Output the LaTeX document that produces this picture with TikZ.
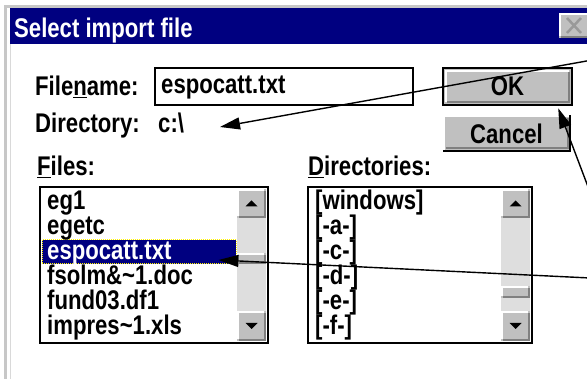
\documentclass[tikz,border=0pt]{standalone}
\usepackage{fontspec}
\setmainfont{Liberation Sans}[FakeStretch=0.82]
\usetikzlibrary{arrows.meta}
\definecolor{winnavy}{RGB}{0,0,128}
\definecolor{btngray}{RGB}{192,192,192}
\definecolor{trackgray}{RGB}{222,222,222}
\definecolor{shadegray}{RGB}{128,128,128}
\tikzset{
  wintext/.style={font=\fontsize{27}{30}\selectfont\bfseries, inner sep=0pt, anchor=base west},
  button/.style={fill=btngray, minimum height=37pt, inner sep=0pt, font=\fontsize{27}{30}\selectfont\bfseries},
  pointer/.style={line width=1.4pt, -{Triangle[length=20pt,width=12pt]}},
}
% raised grey box: (left,top)(right,bottom)
\def\bevel(#1,#2)(#3,#4){%
  \fill[btngray] (#1,#2) rectangle (#3,#4);
  \draw[white, line width=2pt] ({#1+1},{#4-2}) -- ({#1+1},{#2+1}) -- ({#3-2},{#2+1});
  \draw[shadegray, line width=2pt] ({#1+2},{#4-1}) -- ({#3-1},{#4-1}) -- ({#3-1},{#2+2});
}
\def\uptri(#1,#2){\fill ({#1-6},{#2+3}) -- ({#1+6},{#2+3}) -- (#1,{#2-3}) -- cycle;}
\def\downtri(#1,#2){\fill ({#1-6},{#2-3}) -- ({#1+6},{#2-3}) -- (#1,{#2+3}) -- cycle;}

\begin{document}
\begin{tikzpicture}[x=1pt,y=-1pt]
	%%%%% START %%%%%
	\clip (0,0) rectangle (587,379);
	\fill[white] (0,0) rectangle (587,379);
	
	% window frame and title bar
	\draw[black!22, line width=3pt] (5.5,379) -- (5.5,6.5) -- (587,6.5);
	\draw[black!15, line width=1pt] (10.5,44) -- (10.5,379);
	\fill[winnavy] (10,8) rectangle (587,44);
	\node[wintext, text=white] (title) at (14,38) {Select import file};
	\bevel(559,13)(592,38)
	\draw[black!40, line width=2.5pt] (567,18) -- (581,33) (581,18) -- (567,33);
	
	% file name and directory
	\node[wintext] (fnlabel) at (35,96) {File\underline{n}ame:};
	\node[draw=black, line width=1.2pt, minimum width=258pt, minimum height=37pt, inner sep=0pt] (fnbox) at (284,86.5) {};
	\node[wintext] (fnvalue) at (161,94) {espocatt.txt};
	\node[wintext] (dirlabel) at (35,133) {Directory:};
	\node[wintext] (dirvalue) at (158,133) {c:\textbackslash};
	
	% buttons
	\node[button, draw=black, line width=2.5pt, minimum width=129pt] (ok) at (507.5,86.5) {OK};
	\draw[white, line width=2pt] (446,102) -- (446,71) -- (569,71);
	\draw[shadegray, line width=2pt] (447,102) -- (569,102) -- (569,72);
	\node[button, minimum width=127pt] (cancel) at (506.5,133.5) {Cancel};
	\draw[white, line width=2pt] (444,151) -- (444,116) -- (569,116);
	\draw[black, line width=2pt] (443,151) -- (570,151) -- (570,115);
	\draw[shadegray, line width=2pt] (446,148.5) -- (567.5,148.5) -- (567.5,118);
	
	% files list
	\node[wintext] (fileslabel) at (37,176) {\underline{F}iles:};
	\draw[black, line width=2pt] (40,187) rectangle (268,343);
	\node[fill=winnavy, draw=yellow, densely dotted, line width=1pt, minimum width=194pt, minimum height=24pt, inner sep=0pt] (sel) at (139,252) {};
	\foreach \fname/\fcol [count=\i] in {eg1/black, egetc/black, espocatt.txt/white, fsolm\&\textasciitilde 1.doc/black, fund03.df1/black, impres\textasciitilde 1.xls/black}
		\node[wintext, text=\fcol] (file\i) at (47,{185+25*\i}) {\fname};
	\fill[trackgray] (237,218) rectangle (266,311);
	\bevel(237,189)(266,218)
	\bevel(237,253)(266,264)
	\bevel(237,311)(266,341)
	\uptri(251.5,203.5)
	\downtri(251.5,326)
	
	% directories list
	\node[wintext] (dirslabel) at (308,176) {\underline{D}irectories:};
	\draw[black, line width=2pt] (308,187) rectangle (532,343);
	\foreach \dname [count=\i] in {[windows], [-a-], [-c-], [-d-], [-e-], [-f-]}
		\node[wintext] (dir\i) at (315,{185+25*\i}) {\dname};
	\fill[trackgray] (501,218) rectangle (530,311);
	\bevel(501,189)(530,218)
	\bevel(501,286)(530,298)
	\bevel(501,311)(530,341)
	\uptri(515.5,203.5)
	\downtri(515.5,326)
	
	% pointers
	\coordinate (fromdir) at (590,60.4);
	\coordinate (fromok) at (590,192);
	\coordinate (fromsel) at (590,278);
	\draw[pointer] (fromdir) -- ([shift={(62pt,6pt)}]dirvalue.base west);
	\draw[pointer] (fromok) -- ([xshift=-15pt,yshift=-2pt]ok.south east);
	\draw[pointer] (fromsel) -- ([shift={(-18pt,-8pt)}]sel.east);
	%%%%% END %%%%%
\end{tikzpicture}
\end{document}
